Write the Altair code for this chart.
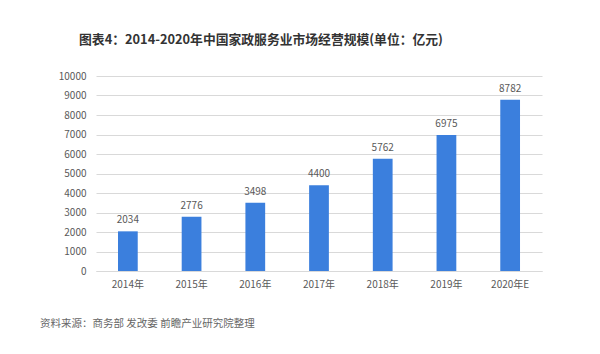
import altair as alt
import pandas as pd

years = ["2014年", "2015年", "2016年", "2017年", "2018年", "2019年", "2020年E"]
values = [2034, 2776, 3498, 4400, 5762, 6975, 8782]
y_ticks = [0, 1000, 2000, 3000, 4000, 5000, 6000, 7000, 8000, 9000, 10000]

title_text = "图表4：2014-2020年中国家政服务业市场经营规模(单位：亿元)"
source_text = "资料来源：商务部 发改委 前瞻产业研究院整理"

df = pd.DataFrame({"year": years, "value": values})
FONT = "Noto Sans CJK SC"

x = alt.X("year:N", sort=years, title=None,
          scale=alt.Scale(paddingInner=0.69, paddingOuter=0.345),
          axis=alt.Axis(labelAngle=0, labelFontSize=10, labelColor="#595959",
                        labelFont=FONT, ticks=False, domainColor="#d9d9d9",
                        labelPadding=8, grid=False))
y = alt.Y("value:Q", title=None,
          scale=alt.Scale(domain=[0, 10000], nice=False),
          axis=alt.Axis(values=y_ticks, format="d", labelOverlap=False,
                        labelFontSize=10, labelColor="#595959",
                        labelFont=FONT, ticks=False, domain=False,
                        gridColor="#d9d9d9", labelPadding=10))

bars = alt.Chart(df).mark_bar(color="#3b7fdd").encode(x=x, y=y)
labels = alt.Chart(df).mark_text(dy=-11, fontSize=10, color="#595959", font=FONT).encode(
    x=x, y=y, text="value:Q")

title = alt.Chart(pd.DataFrame({"t": [title_text]})).mark_text(
    align="center", baseline="middle", fontSize=12.8, color="#333333",
    font=FONT, fontWeight="bold"
).encode(x=alt.value(165), y=alt.value(-36), text="t:N")

source = alt.Chart(pd.DataFrame({"t": [source_text]})).mark_text(
    align="left", baseline="middle", fontSize=10.5, color="#666666", font=FONT
).encode(x=alt.value(-56), y=alt.value(248), text="t:N")

chart = alt.layer(bars, labels, title, source).properties(
    width=446, height=195,
    autosize=alt.AutoSizeParams(type="none"),
    padding={"left": 96, "top": 76, "right": 58, "bottom": 83},
    background="white",
).configure_view(stroke=None)

chart.save("out.html", embed_options={"renderer": "svg", "actions": False})
